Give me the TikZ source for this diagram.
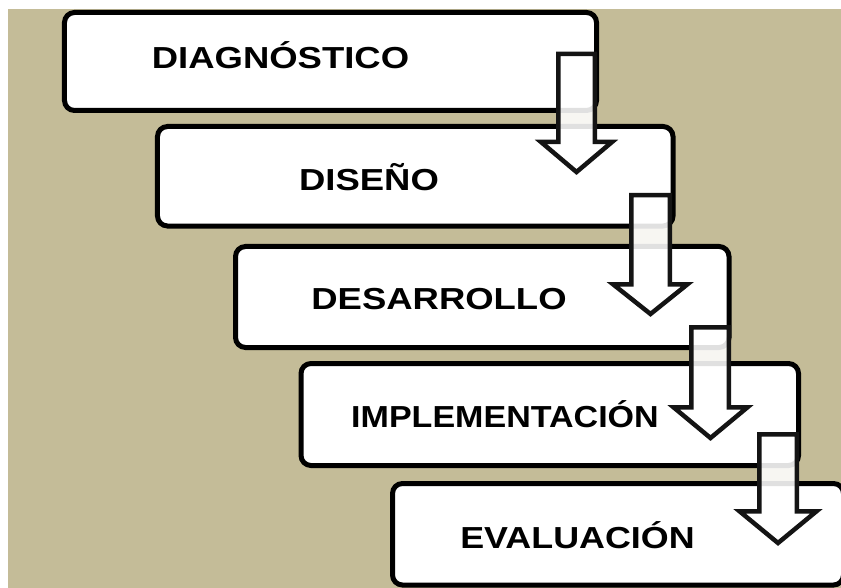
\documentclass[tikz,border=0pt]{standalone}
\usepackage{fontspec}
\setmainfont{Liberation Sans}
\definecolor{tan}{RGB}{196,188,152}
\tikzset{
  stagebox/.style={draw=black, fill=white, line width=5bp, rounded corners=10bp, inner sep=0pt},
  stagetext/.style={font=\bfseries\fontsize{30.5}{36}\selectfont, text=black, inner sep=0pt, anchor=base},
  blockarrow/.style={draw=black!92, fill=white, fill opacity=0.88, line width=4.5bp, line join=miter, miter limit=10}
}
\begin{document}
\begin{tikzpicture}[x=1bp,y=-1bp]
\useasboundingbox (0,0) rectangle (841,588);
\fill[white] (0,0) rectangle (841,588);
\clip (0,0) rectangle (841,588);
\fill[tan] (8,9) rectangle (841,588);
% boxes
\node[stagebox, minimum width=532bp, minimum height=98bp] (b1) at (330.5,61.5) {};
\node[stagebox, minimum width=515.5bp, minimum height=99.5bp] (b2) at (415.25,176.25) {};
\node[stagebox, minimum width=493.5bp, minimum height=101bp] (b3) at (482.25,297) {};
\node[stagebox, minimum width=497.5bp, minimum height=102bp] (b4) at (549.75,414.5) {};
\node[stagebox, minimum width=451bp, minimum height=101.5bp] (b5) at (618,534.25) {};
% texts
\node[stagetext, xscale=1.20] (t1) at (280.5,69) {DIAGNÓSTICO};
\node[stagetext, xscale=1.20] (t2) at (369,191) {DISEÑO};
\node[stagetext, xscale=1.20] (t3) at (439,309) {DESARROLLO};
\node[stagetext, xscale=1.12] (t4) at (505,427) {IMPLEMENTACIÓN};
\node[stagetext, xscale=1.18] (t5) at (577.5,548) {EVALUACIÓN};
% arrows
\draw[blockarrow] (558.25,54) -- (594.75,54) -- (594.75,142) -- (612,142) -- (576.5,172) -- (541,142) -- (558.25,142) -- cycle;
\draw[blockarrow] (631.25,195.25) -- (669.75,195.25) -- (669.75,284.25) -- (687.5,284.25) -- (650.5,314) -- (613,284.25) -- (631.25,284.25) -- cycle;
\draw[blockarrow] (691.25,327.25) -- (728.75,327.25) -- (728.75,407.25) -- (747.5,407.25) -- (710.5,438) -- (673.5,407.25) -- (691.25,407.25) -- cycle;
\draw[blockarrow] (759.25,434.25) -- (796.75,434.25) -- (796.75,511.25) -- (816.5,511.25) -- (778,543) -- (739.5,511.25) -- (759.25,511.25) -- cycle;
\end{tikzpicture}
\end{document}
